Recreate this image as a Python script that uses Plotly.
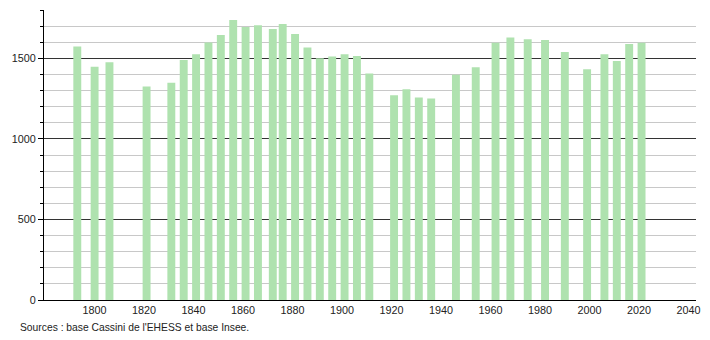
import plotly.graph_objects as go

years = [1793, 1800, 1806, 1821, 1831, 1836, 1841, 1846, 1851, 1856, 1861, 1866,
         1872, 1876, 1881, 1886, 1891, 1896, 1901, 1906, 1911, 1921, 1926, 1931,
         1936, 1946, 1954, 1962, 1968, 1975, 1982, 1990, 1999, 2006, 2011, 2016, 2021]
population = [1574, 1448, 1475, 1325, 1348, 1489, 1526, 1599, 1645, 1738, 1695, 1705,
              1682, 1713, 1651, 1568, 1500, 1512, 1525, 1514, 1406, 1271, 1308, 1257,
              1250, 1398, 1445, 1597, 1630, 1618, 1614, 1539, 1433, 1526, 1483, 1589, 1597]
x_ticks = [1800, 1820, 1840, 1860, 1880, 1900, 1920, 1940, 1960, 1980, 2000, 2020, 2040]
y_ticks = [0, 500, 1000, 1500]
source_text = "Sources : base Cassini de l'EHESS et base Insee."

fig = go.Figure()
fig.add_trace(go.Bar(
    x=years, y=population, width=3.2,
    marker=dict(color="#afe2af", line=dict(width=0)),
    hoverinfo="x+y",
))

font = dict(family="Liberation Sans, Arial, sans-serif", size=11, color="#222")
fig.update_layout(
    width=710, height=340,
    margin=dict(l=44, r=9, t=10, b=40),
    paper_bgcolor="white", plot_bgcolor="white",
    showlegend=False,
    font=font,
    xaxis=dict(
        range=[1779.55, 2043],
        tickvals=x_ticks, ticktext=[str(v) for v in x_ticks],
        showgrid=False, zeroline=False,
        showline=True, linecolor="black", linewidth=1,
        ticks="", tickfont=dict(family="Liberation Sans, Arial, sans-serif", size=10.8, color="#222"),
    ),
    yaxis=dict(
        range=[0, 1800],
        tickvals=y_ticks, ticktext=[str(v) for v in y_ticks],
        showgrid=True, gridcolor="#333", gridwidth=1,
        zeroline=False,
        showline=True, linecolor="black", linewidth=1,
        ticks="outside", ticklen=5, tickcolor="black",
        tickfont=dict(family="Liberation Sans, Arial, sans-serif", size=10.8, color="#222"),
        minor=dict(dtick=100, tick0=0, showgrid=True, gridcolor="#c8c8c8",
                   ticks="outside", ticklen=3, tickcolor="black"),
    ),
    annotations=[dict(
        text=source_text, xref="paper", yref="paper",
        x=-44/657, y=-27/290, xanchor="left", yanchor="middle",
        showarrow=False, font=dict(family="Liberation Sans, Arial, sans-serif", size=10.3, color="#222"),
        xshift=18,
    )],
)

fig.write_html("out.html")
